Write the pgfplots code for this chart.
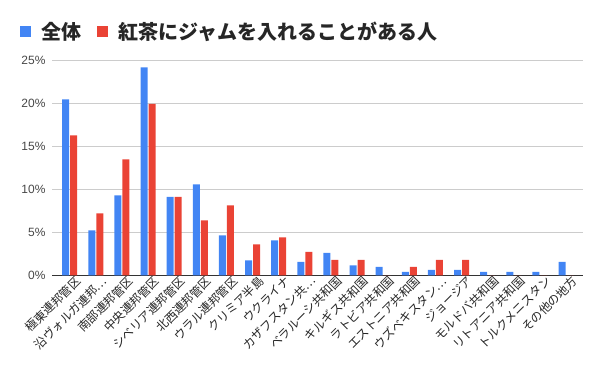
\documentclass[border=0pt]{standalone}
\usepackage{pgfplots}
\pgfplotsset{compat=1.18}
\usepackage{fontspec}
\setmainfont{Liberation Sans}
\newfontfamily\jp{Noto Sans CJK JP}
\definecolor{cblue}{HTML}{4285F4}
\definecolor{cred}{HTML}{EA4335}
\begin{document}
\begin{tikzpicture}[x=1bp,y=1bp]
\useasboundingbox (0,0) rectangle (600,371);
\begin{axis}[
  at={(52bp,95.7bp)}, anchor=south west,
  scale only axis, width=531bp, height=215bp,
  xmin=-0.678, xmax=19.65, ymin=0, ymax=25,
  ybar=1bp, bar width=7bp,
  xtick={0,...,19},
  xticklabels={極東連邦管区,沿ヴォルガ連邦…,南部連邦管区,中央連邦管区,シベリア連邦管区,北西連邦管区,ウラル連邦管区,クリミア半島,ウクライナ,カザフスタン共…,ベラルーシ共和国,キルギス共和国,ラトビア共和国,エストニア共和国,ウズベキスタン…,ジョージア,モルドバ共和国,リトアニア共和国,トルクメニスタン,その他の地方},
  xticklabel style={font=\jp\fontsize{12bp}{12bp}\selectfont, rotate=45, anchor=north east, text=black!85, inner sep=1bp, xshift=5bp, yshift=-2bp},
  ytick={0,5,...,25},
  yticklabel={\pgfmathprintnumber{\tick}\%},
  yticklabel style={font=\fontsize{12bp}{14bp}\selectfont, text=black!72, xshift=-3bp},
  /pgf/number format/assume math mode=true,
  ymajorgrids, grid style={black!20, line width=0.8bp},
  axis x line*=bottom, axis y line*=left,
  y axis line style={draw=none},
  x axis line style={-, black!80, line width=1bp},
  major tick length=0pt,
  legend style={at={(-0.06,1.132)}, anchor=west, draw=none, fill=none,
    font=\jp\bfseries\fontsize{20bp}{20bp}\selectfont, text=black!85,
    /tikz/every odd column/.style={column sep=8bp},
    /tikz/every even column/.style={column sep=14bp}, inner sep=0pt},
  legend columns=2,
  legend image code/.code={\fill[#1] (0bp,-5.5bp) rectangle (11bp,5.5bp);},
]
\addplot[fill=cblue, draw=none] coordinates {
(0,20.47) (1,5.23) (2,9.30) (3,24.19) (4,9.11) (5,10.58) (6,4.65) (7,1.74) (8,4.07) (9,1.55)
(10,2.60) (11,1.16) (12,0.97) (13,0.39) (14,0.62) (15,0.62) (16,0.39) (17,0.39) (18,0.39) (19,1.55)};
\addplot[fill=cred, draw=none] coordinates {
(0,16.28) (1,7.21) (2,13.49) (3,19.92) (4,9.11) (5,6.40) (6,8.14) (7,3.60) (8,4.42) (9,2.71)
(10,1.78) (11,1.78) (12,0) (13,0.97) (14,1.78) (15,1.78) (16,0) (17,0) (18,0) (19,0)};
\legend{全体,紅茶にジャムを入れることがある人}
\end{axis}
\end{tikzpicture}
\end{document}
